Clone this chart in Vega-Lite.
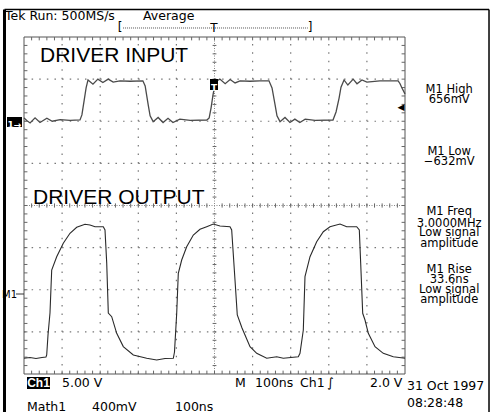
{
  "$schema": "https://vega.github.io/schema/vega-lite/v6.json",
  "width": 381,
  "height": 337,
  "autosize": {"type": "none"},
  "padding": {"left": 24, "top": 37, "right": 87, "bottom": 38},
  "background": "white",
  "config": {"view": {"stroke": null}},
  "datasets": {
    "inp": [
      {"t":0,"v":6.08},{"t":0.08,"v":6.01},{"t":0.16,"v":5.96},{"t":0.29,"v":6.08},{"t":0.42,"v":5.97},{"t":0.60,"v":6.07},{"t":0.74,"v":6.00},{"t":0.95,"v":6.04},{"t":1.21,"v":6.02},{"t":1.47,"v":6.03},{"t":1.52,"v":6.15},{"t":1.58,"v":6.50},{"t":1.63,"v":6.79},{"t":1.68,"v":6.98},{"t":1.81,"v":6.88},{"t":1.94,"v":7.00},{"t":2.07,"v":6.92},{"t":2.21,"v":7.00},{"t":2.34,"v":6.93},{"t":2.52,"v":6.96},{"t":2.78,"v":6.95},{"t":3.12,"v":6.96},{"t":3.18,"v":6.84},{"t":3.26,"v":6.39},{"t":3.31,"v":6.13},{"t":3.39,"v":5.99},{"t":3.52,"v":6.09},{"t":3.65,"v":5.97},{"t":3.78,"v":6.07},{"t":3.91,"v":5.97},{"t":4.09,"v":6.05},{"t":4.36,"v":6.02},{"t":4.80,"v":6.03},{"t":4.86,"v":6.08},{"t":4.91,"v":6.32},{"t":4.96,"v":6.62},{"t":5.01,"v":6.86},{"t":5.07,"v":6.96},{"t":5.14,"v":7.00},{"t":5.28,"v":6.89},{"t":5.41,"v":6.99},{"t":5.54,"v":6.91},{"t":5.67,"v":6.96},{"t":5.93,"v":6.95},{"t":6.19,"v":6.96},{"t":6.43,"v":6.96},{"t":6.51,"v":6.79},{"t":6.59,"v":6.39},{"t":6.64,"v":6.13},{"t":6.72,"v":5.99},{"t":6.85,"v":6.09},{"t":6.98,"v":5.97},{"t":7.11,"v":6.05},{"t":7.24,"v":5.97},{"t":7.38,"v":6.05},{"t":7.64,"v":6.02},{"t":8.11,"v":6.03},{"t":8.19,"v":6.22},{"t":8.27,"v":6.55},{"t":8.32,"v":6.81},{"t":8.40,"v":6.98},{"t":8.50,"v":6.86},{"t":8.64,"v":7.00},{"t":8.74,"v":6.89},{"t":8.87,"v":6.98},{"t":9.00,"v":6.93},{"t":9.34,"v":6.96},{"t":9.82,"v":6.96},{"t":9.87,"v":6.89},{"t":9.92,"v":6.79},{"t":10.0,"v":6.65}
    ],
    "out": [
      {"t":0,"v":0.373},{"t":0.157,"v":0.392},{"t":0.315,"v":0.368},{"t":0.472,"v":0.392},{"t":0.577,"v":0.404},{"t":0.596,"v":0.451},{"t":0.630,"v":0.926},{"t":0.682,"v":1.448},{"t":0.727,"v":2.469},{"t":0.858,"v":2.785},{"t":1.031,"v":3.103},{"t":1.207,"v":3.340},{"t":1.383,"v":3.482},{"t":1.601,"v":3.554},{"t":1.732,"v":3.537},{"t":1.864,"v":3.497},{"t":2.081,"v":3.497},{"t":2.126,"v":3.418},{"t":2.171,"v":2.635},{"t":2.213,"v":1.448},{"t":2.302,"v":1.360},{"t":2.433,"v":0.966},{"t":2.606,"v":0.650},{"t":2.869,"v":0.451},{"t":3.220,"v":0.373},{"t":3.483,"v":0.332},{"t":3.701,"v":0.368},{"t":3.919,"v":0.373},{"t":3.950,"v":0.522},{"t":4.008,"v":1.441},{"t":4.050,"v":2.390},{"t":4.139,"v":2.706},{"t":4.270,"v":3.022},{"t":4.444,"v":3.300},{"t":4.619,"v":3.435},{"t":4.795,"v":3.497},{"t":4.969,"v":3.561},{"t":5.144,"v":3.513},{"t":5.407,"v":3.497},{"t":5.451,"v":3.418},{"t":5.538,"v":2.231},{"t":5.598,"v":1.401},{"t":5.722,"v":1.092},{"t":5.932,"v":0.648},{"t":6.108,"v":0.491},{"t":6.370,"v":0.373},{"t":6.633,"v":0.411},{"t":6.806,"v":0.373},{"t":7.199,"v":0.411},{"t":7.244,"v":0.491},{"t":7.331,"v":1.045},{"t":7.375,"v":2.310},{"t":7.507,"v":2.785},{"t":7.682,"v":3.141},{"t":7.856,"v":3.378},{"t":8.031,"v":3.497},{"t":8.294,"v":3.561},{"t":8.470,"v":3.497},{"t":8.732,"v":3.497},{"t":8.801,"v":3.418},{"t":8.837,"v":2.628},{"t":8.890,"v":1.441},{"t":8.950,"v":1.282},{"t":9.037,"v":0.966},{"t":9.213,"v":0.648},{"t":9.430,"v":0.491},{"t":9.693,"v":0.411},{"t":10.0,"v":0.373}
    ],
    "htick": [
      {"t":0.2,"v":8,"v2":7.92},{"t":0.4,"v":8,"v2":7.92},{"t":0.6,"v":8,"v2":7.92},{"t":0.8,"v":8,"v2":7.92},{"t":1,"v":8,"v2":7.92},{"t":1.2,"v":8,"v2":7.92},{"t":1.4,"v":8,"v2":7.92},{"t":1.6,"v":8,"v2":7.92},{"t":1.8,"v":8,"v2":7.92},{"t":2,"v":8,"v2":7.92},{"t":2.2,"v":8,"v2":7.92},{"t":2.4,"v":8,"v2":7.92},{"t":2.6,"v":8,"v2":7.92},{"t":2.8,"v":8,"v2":7.92},{"t":3,"v":8,"v2":7.92},{"t":3.2,"v":8,"v2":7.92},{"t":3.4,"v":8,"v2":7.92},{"t":3.6,"v":8,"v2":7.92},{"t":3.8,"v":8,"v2":7.92},{"t":4,"v":8,"v2":7.92},{"t":4.2,"v":8,"v2":7.92},{"t":4.4,"v":8,"v2":7.92},{"t":4.6,"v":8,"v2":7.92},{"t":4.8,"v":8,"v2":7.92},{"t":5,"v":8,"v2":7.92},{"t":5.2,"v":8,"v2":7.92},{"t":5.4,"v":8,"v2":7.92},{"t":5.6,"v":8,"v2":7.92},{"t":5.8,"v":8,"v2":7.92},{"t":6,"v":8,"v2":7.92},{"t":6.2,"v":8,"v2":7.92},{"t":6.4,"v":8,"v2":7.92},{"t":6.6,"v":8,"v2":7.92},{"t":6.8,"v":8,"v2":7.92},{"t":7,"v":8,"v2":7.92},{"t":7.2,"v":8,"v2":7.92},{"t":7.4,"v":8,"v2":7.92},{"t":7.6,"v":8,"v2":7.92},{"t":7.8,"v":8,"v2":7.92},{"t":8,"v":8,"v2":7.92},{"t":8.2,"v":8,"v2":7.92},{"t":8.4,"v":8,"v2":7.92},{"t":8.6,"v":8,"v2":7.92},{"t":8.8,"v":8,"v2":7.92},{"t":9,"v":8,"v2":7.92},{"t":9.2,"v":8,"v2":7.92},{"t":9.4,"v":8,"v2":7.92},{"t":9.6,"v":8,"v2":7.92},{"t":9.8,"v":8,"v2":7.92},
      {"t":0.2,"v":0,"v2":0.08},{"t":0.4,"v":0,"v2":0.08},{"t":0.6,"v":0,"v2":0.08},{"t":0.8,"v":0,"v2":0.08},{"t":1,"v":0,"v2":0.08},{"t":1.2,"v":0,"v2":0.08},{"t":1.4,"v":0,"v2":0.08},{"t":1.6,"v":0,"v2":0.08},{"t":1.8,"v":0,"v2":0.08},{"t":2,"v":0,"v2":0.08},{"t":2.2,"v":0,"v2":0.08},{"t":2.4,"v":0,"v2":0.08},{"t":2.6,"v":0,"v2":0.08},{"t":2.8,"v":0,"v2":0.08},{"t":3,"v":0,"v2":0.08},{"t":3.2,"v":0,"v2":0.08},{"t":3.4,"v":0,"v2":0.08},{"t":3.6,"v":0,"v2":0.08},{"t":3.8,"v":0,"v2":0.08},{"t":4,"v":0,"v2":0.08},{"t":4.2,"v":0,"v2":0.08},{"t":4.4,"v":0,"v2":0.08},{"t":4.6,"v":0,"v2":0.08},{"t":4.8,"v":0,"v2":0.08},{"t":5,"v":0,"v2":0.08},{"t":5.2,"v":0,"v2":0.08},{"t":5.4,"v":0,"v2":0.08},{"t":5.6,"v":0,"v2":0.08},{"t":5.8,"v":0,"v2":0.08},{"t":6,"v":0,"v2":0.08},{"t":6.2,"v":0,"v2":0.08},{"t":6.4,"v":0,"v2":0.08},{"t":6.6,"v":0,"v2":0.08},{"t":6.8,"v":0,"v2":0.08},{"t":7,"v":0,"v2":0.08},{"t":7.2,"v":0,"v2":0.08},{"t":7.4,"v":0,"v2":0.08},{"t":7.6,"v":0,"v2":0.08},{"t":7.8,"v":0,"v2":0.08},{"t":8,"v":0,"v2":0.08},{"t":8.2,"v":0,"v2":0.08},{"t":8.4,"v":0,"v2":0.08},{"t":8.6,"v":0,"v2":0.08},{"t":8.8,"v":0,"v2":0.08},{"t":9,"v":0,"v2":0.08},{"t":9.2,"v":0,"v2":0.08},{"t":9.4,"v":0,"v2":0.08},{"t":9.6,"v":0,"v2":0.08},{"t":9.8,"v":0,"v2":0.08},
      {"t":0.2,"v":3.95,"v2":4.05},{"t":0.4,"v":3.95,"v2":4.05},{"t":0.6,"v":3.95,"v2":4.05},{"t":0.8,"v":3.95,"v2":4.05},{"t":1,"v":3.95,"v2":4.05},{"t":1.2,"v":3.95,"v2":4.05},{"t":1.4,"v":3.95,"v2":4.05},{"t":1.6,"v":3.95,"v2":4.05},{"t":1.8,"v":3.95,"v2":4.05},{"t":2,"v":3.95,"v2":4.05},{"t":2.2,"v":3.95,"v2":4.05},{"t":2.4,"v":3.95,"v2":4.05},{"t":2.6,"v":3.95,"v2":4.05},{"t":2.8,"v":3.95,"v2":4.05},{"t":3,"v":3.95,"v2":4.05},{"t":3.2,"v":3.95,"v2":4.05},{"t":3.4,"v":3.95,"v2":4.05},{"t":3.6,"v":3.95,"v2":4.05},{"t":3.8,"v":3.95,"v2":4.05},{"t":4,"v":3.95,"v2":4.05},{"t":4.2,"v":3.95,"v2":4.05},{"t":4.4,"v":3.95,"v2":4.05},{"t":4.6,"v":3.95,"v2":4.05},{"t":4.8,"v":3.95,"v2":4.05},{"t":5.2,"v":3.95,"v2":4.05},{"t":5.4,"v":3.95,"v2":4.05},{"t":5.6,"v":3.95,"v2":4.05},{"t":5.8,"v":3.95,"v2":4.05},{"t":6,"v":3.95,"v2":4.05},{"t":6.2,"v":3.95,"v2":4.05},{"t":6.4,"v":3.95,"v2":4.05},{"t":6.6,"v":3.95,"v2":4.05},{"t":6.8,"v":3.95,"v2":4.05},{"t":7,"v":3.95,"v2":4.05},{"t":7.2,"v":3.95,"v2":4.05},{"t":7.4,"v":3.95,"v2":4.05},{"t":7.6,"v":3.95,"v2":4.05},{"t":7.8,"v":3.95,"v2":4.05},{"t":8,"v":3.95,"v2":4.05},{"t":8.2,"v":3.95,"v2":4.05},{"t":8.4,"v":3.95,"v2":4.05},{"t":8.6,"v":3.95,"v2":4.05},{"t":8.8,"v":3.95,"v2":4.05},{"t":9,"v":3.95,"v2":4.05},{"t":9.2,"v":3.95,"v2":4.05},{"t":9.4,"v":3.95,"v2":4.05},{"t":9.6,"v":3.95,"v2":4.05},{"t":9.8,"v":3.95,"v2":4.05}
    ],
    "vtick": [
      {"v":0.2,"t":0,"t2":0.09},{"v":0.4,"t":0,"t2":0.09},{"v":0.6,"t":0,"t2":0.09},{"v":0.8,"t":0,"t2":0.09},{"v":1,"t":0,"t2":0.09},{"v":1.2,"t":0,"t2":0.09},{"v":1.4,"t":0,"t2":0.09},{"v":1.6,"t":0,"t2":0.09},{"v":1.8,"t":0,"t2":0.09},{"v":2,"t":0,"t2":0.09},{"v":2.2,"t":0,"t2":0.09},{"v":2.4,"t":0,"t2":0.09},{"v":2.6,"t":0,"t2":0.09},{"v":2.8,"t":0,"t2":0.09},{"v":3,"t":0,"t2":0.09},{"v":3.2,"t":0,"t2":0.09},{"v":3.4,"t":0,"t2":0.09},{"v":3.6,"t":0,"t2":0.09},{"v":3.8,"t":0,"t2":0.09},{"v":4,"t":0,"t2":0.09},{"v":4.2,"t":0,"t2":0.09},{"v":4.4,"t":0,"t2":0.09},{"v":4.6,"t":0,"t2":0.09},{"v":4.8,"t":0,"t2":0.09},{"v":5,"t":0,"t2":0.09},{"v":5.2,"t":0,"t2":0.09},{"v":5.4,"t":0,"t2":0.09},{"v":5.6,"t":0,"t2":0.09},{"v":5.8,"t":0,"t2":0.09},{"v":6,"t":0,"t2":0.09},{"v":6.2,"t":0,"t2":0.09},{"v":6.4,"t":0,"t2":0.09},{"v":6.6,"t":0,"t2":0.09},{"v":6.8,"t":0,"t2":0.09},{"v":7,"t":0,"t2":0.09},{"v":7.2,"t":0,"t2":0.09},{"v":7.4,"t":0,"t2":0.09},{"v":7.6,"t":0,"t2":0.09},{"v":7.8,"t":0,"t2":0.09},
      {"v":0.2,"t":10,"t2":9.91},{"v":0.4,"t":10,"t2":9.91},{"v":0.6,"t":10,"t2":9.91},{"v":0.8,"t":10,"t2":9.91},{"v":1,"t":10,"t2":9.91},{"v":1.2,"t":10,"t2":9.91},{"v":1.4,"t":10,"t2":9.91},{"v":1.6,"t":10,"t2":9.91},{"v":1.8,"t":10,"t2":9.91},{"v":2,"t":10,"t2":9.91},{"v":2.2,"t":10,"t2":9.91},{"v":2.4,"t":10,"t2":9.91},{"v":2.6,"t":10,"t2":9.91},{"v":2.8,"t":10,"t2":9.91},{"v":3,"t":10,"t2":9.91},{"v":3.2,"t":10,"t2":9.91},{"v":3.4,"t":10,"t2":9.91},{"v":3.6,"t":10,"t2":9.91},{"v":3.8,"t":10,"t2":9.91},{"v":4,"t":10,"t2":9.91},{"v":4.2,"t":10,"t2":9.91},{"v":4.4,"t":10,"t2":9.91},{"v":4.6,"t":10,"t2":9.91},{"v":4.8,"t":10,"t2":9.91},{"v":5,"t":10,"t2":9.91},{"v":5.2,"t":10,"t2":9.91},{"v":5.4,"t":10,"t2":9.91},{"v":5.6,"t":10,"t2":9.91},{"v":5.8,"t":10,"t2":9.91},{"v":6,"t":10,"t2":9.91},{"v":6.2,"t":10,"t2":9.91},{"v":6.4,"t":10,"t2":9.91},{"v":6.6,"t":10,"t2":9.91},{"v":6.8,"t":10,"t2":9.91},{"v":7,"t":10,"t2":9.91},{"v":7.2,"t":10,"t2":9.91},{"v":7.4,"t":10,"t2":9.91},{"v":7.6,"t":10,"t2":9.91},{"v":7.8,"t":10,"t2":9.91},
      {"v":0.2,"t":4.95,"t2":5.05},{"v":0.4,"t":4.95,"t2":5.05},{"v":0.6,"t":4.95,"t2":5.05},{"v":0.8,"t":4.95,"t2":5.05},{"v":1,"t":4.95,"t2":5.05},{"v":1.2,"t":4.95,"t2":5.05},{"v":1.4,"t":4.95,"t2":5.05},{"v":1.6,"t":4.95,"t2":5.05},{"v":1.8,"t":4.95,"t2":5.05},{"v":2,"t":4.95,"t2":5.05},{"v":2.2,"t":4.95,"t2":5.05},{"v":2.4,"t":4.95,"t2":5.05},{"v":2.6,"t":4.95,"t2":5.05},{"v":2.8,"t":4.95,"t2":5.05},{"v":3,"t":4.95,"t2":5.05},{"v":3.2,"t":4.95,"t2":5.05},{"v":3.4,"t":4.95,"t2":5.05},{"v":3.6,"t":4.95,"t2":5.05},{"v":3.8,"t":4.95,"t2":5.05},{"v":4.2,"t":4.95,"t2":5.05},{"v":4.4,"t":4.95,"t2":5.05},{"v":4.6,"t":4.95,"t2":5.05},{"v":4.8,"t":4.95,"t2":5.05},{"v":5,"t":4.95,"t2":5.05},{"v":5.2,"t":4.95,"t2":5.05},{"v":5.4,"t":4.95,"t2":5.05},{"v":5.6,"t":4.95,"t2":5.05},{"v":5.8,"t":4.95,"t2":5.05},{"v":6,"t":4.95,"t2":5.05},{"v":6.2,"t":4.95,"t2":5.05},{"v":6.4,"t":4.95,"t2":5.05},{"v":6.6,"t":4.95,"t2":5.05},{"v":6.8,"t":4.95,"t2":5.05},{"v":7,"t":4.95,"t2":5.05},{"v":7.2,"t":4.95,"t2":5.05},{"v":7.4,"t":4.95,"t2":5.05},{"v":7.6,"t":4.95,"t2":5.05},{"v":7.8,"t":4.95,"t2":5.05}
    ],
    "gridv": [{"t":1,"v":0,"v2":8},{"t":2,"v":0,"v2":8},{"t":3,"v":0,"v2":8},{"t":4,"v":0,"v2":8},{"t":6,"v":0,"v2":8},{"t":7,"v":0,"v2":8},{"t":8,"v":0,"v2":8},{"t":9,"v":0,"v2":8}],
    "gridh": [{"v":1,"t":0,"t2":10},{"v":2,"t":0,"t2":10},{"v":3,"t":0,"t2":10},{"v":5,"t":0,"t2":10},{"v":6,"t":0,"t2":10},{"v":7,"t":0,"t2":10}],
    "box": [{"t":0,"v":0,"t2":10,"v2":0},{"t":0,"v":8,"t2":10,"v2":8},{"t":0,"v":0,"t2":0,"v2":8},{"t":10,"v":0,"t2":10,"v2":8}],
    "cross": [{"t":0,"v":4,"t2":10,"v2":4},{"t":5,"v":0,"t2":5,"v2":8}],
    "frame": [{"part":"left","t":-0.512,"v":8.653,"t2":-0.512,"v2":-0.95},{"part":"top","t":-0.512,"v":8.653,"t2":12.205,"v2":8.653},{"part":"right","t":12.205,"v":8.653,"t2":12.205,"v2":-0.95}],
    "big": [{"t":0.42,"v":7.41,"label":"DRIVER INPUT"},{"t":0.236,"v":4.04,"label":"DRIVER OUTPUT"}],
    "meas": [
      {"t":11.16,"v":6.664,"label":"M1 High"},{"t":11.16,"v":6.426,"label":"656mV"},
      {"t":11.16,"v":5.199,"label":"M1 Low"},{"t":11.16,"v":4.961,"label":"−632mV"},
      {"t":11.16,"v":3.774,"label":"M1 Freq"},{"t":11.16,"v":3.497,"label":"3.0000MHz"},{"t":11.16,"v":3.276,"label":"Low signal"},{"t":11.16,"v":3.022,"label":"amplitude"},
      {"t":11.16,"v":2.405,"label":"M1 Rise"},{"t":11.16,"v":2.153,"label":"33.6ns"},{"t":11.16,"v":1.930,"label":"Low signal"},{"t":11.16,"v":1.679,"label":"amplitude"}
    ],
    "plain": [
      {"t":-0.499,"v":8.415,"label":"Tek Run: 500MS/s"},{"t":3.123,"v":8.415,"label":"Average"},
      {"t":0.997,"v":-0.309,"label":"5.00 V"},{"t":5.538,"v":-0.309,"label":"M"},{"t":6.063,"v":-0.309,"label":"100ns"},{"t":7.244,"v":-0.309,"label":"Ch1"},{"t":7.953,"v":-0.309,"label":"∫"},{"t":9.081,"v":-0.309,"label":"2.0 V"},
      {"t":10.052,"v":-0.380,"label":"31 Oct 1997"},{"t":10.052,"v":-0.783,"label":"08:28:48"},
      {"t":0.079,"v":-0.88,"label":"Math1"},{"t":1.785,"v":-0.88,"label":"400mV"},{"t":3.963,"v":-0.88,"label":"100ns"}
    ],
    "brackets": [{"t":2.52,"v":8.133,"label":"["},{"t":7.507,"v":8.133,"label":"]"},{"t":4.987,"v":8.119,"label":"T"}],
    "bline": [{"t":2.6,"v":8.214,"t2":7.45,"v2":8.214}],
    "boxes": [{"t":0.079,"t2":0.682,"v":-0.071,"v2":-0.356},{"t":-0.446,"t2":-0.052,"v":6.101,"v2":5.863},{"t":4.882,"t2":5.092,"v":7.003,"v2":6.742}],
    "ch1": [{"t":0.38,"v":-0.22,"label":"Ch1"}],
    "smallbox": [{"t":-0.249,"v":5.91,"label":"1→"},{"t":4.987,"v":6.79,"label":"T"}],
    "marks": [{"t":-0.577,"v":1.816,"label":"M1"}],
    "mline": [{"t":-0.21,"v":1.899,"t2":0,"v2":1.899}],
    "arrow": [{"t":9.895,"v":6.33,"label":"◀"}]
  },
  "encoding": {
    "x": {"field": "t", "type": "quantitative", "scale": {"domain": [0, 10], "nice": false, "zero": false}, "axis": null},
    "y": {"field": "v", "type": "quantitative", "scale": {"domain": [0, 8], "nice": false, "zero": false}, "axis": null}
  },
  "layer": [
    {"data": {"name": "frame"}, "transform": [{"filter": "datum.part == 'left'"}], "mark": {"type": "rule", "color": "black", "strokeWidth": 3},
     "encoding": {"x2": {"field": "t2"}, "y2": {"field": "v2"}}},
    {"data": {"name": "frame"}, "transform": [{"filter": "datum.part != 'left'"}], "mark": {"type": "rule", "color": "black", "strokeWidth": 1.5},
     "encoding": {"x2": {"field": "t2"}, "y2": {"field": "v2"}}},
    {"data": {"name": "gridv"}, "mark": {"type": "rule", "color": "#777", "strokeWidth": 1.2, "strokeDash": [1.5, 6.925]},
     "encoding": {"y2": {"field": "v2"}}},
    {"data": {"name": "gridh"}, "mark": {"type": "rule", "color": "#777", "strokeWidth": 1.2, "strokeDash": [1.5, 6.12]},
     "encoding": {"x2": {"field": "t2"}}},
    {"data": {"name": "cross"}, "mark": {"type": "rule", "color": "#888", "strokeWidth": 1, "strokeDash": [1, 1.5]},
     "encoding": {"x2": {"field": "t2"}, "y2": {"field": "v2"}}},
    {"data": {"name": "box"}, "mark": {"type": "rule", "color": "#555", "strokeWidth": 1},
     "encoding": {"x2": {"field": "t2"}, "y2": {"field": "v2"}}},
    {"data": {"name": "htick"}, "mark": {"type": "rule", "color": "#666", "strokeWidth": 1},
     "encoding": {"y2": {"field": "v2"}}},
    {"data": {"name": "vtick"}, "mark": {"type": "rule", "color": "#666", "strokeWidth": 1},
     "encoding": {"x2": {"field": "t2"}}},
    {"data": {"name": "inp"}, "mark": {"type": "line", "color": "#4a4a4a", "strokeWidth": 1.3}, "encoding": {}},
    {"data": {"name": "out"}, "mark": {"type": "line", "color": "#2a2a2a", "strokeWidth": 1.1}, "encoding": {}},
    {"data": {"name": "big"}, "mark": {"type": "text", "align": "left", "baseline": "alphabetic", "font": "Liberation Sans", "fontSize": 21, "color": "black"},
     "encoding": {"text": {"field": "label"}}},
    {"data": {"name": "meas"}, "mark": {"type": "text", "align": "center", "baseline": "alphabetic", "font": "DejaVu Sans", "fontSize": 11.5, "color": "black"},
     "encoding": {"text": {"field": "label"}}},
    {"data": {"name": "plain"}, "mark": {"type": "text", "align": "left", "baseline": "alphabetic", "font": "DejaVu Sans", "fontSize": 12.5, "color": "black"},
     "encoding": {"text": {"field": "label"}}},
    {"data": {"name": "bline"}, "mark": {"type": "rule", "color": "#555", "strokeWidth": 1, "strokeDash": [1, 1]},
     "encoding": {"x2": {"field": "t2"}, "y2": {"field": "v2"}}},
    {"data": {"name": "brackets"}, "mark": {"type": "text", "align": "center", "baseline": "alphabetic", "font": "DejaVu Sans", "fontSize": 12, "color": "black"},
     "encoding": {"text": {"field": "label"}}},
    {"data": {"name": "boxes"}, "mark": {"type": "rect", "color": "black"},
     "encoding": {"x2": {"field": "t2"}, "y2": {"field": "v2"}}},
    {"data": {"name": "ch1"}, "mark": {"type": "text", "align": "center", "baseline": "middle", "font": "Liberation Sans", "fontWeight": "bold", "fontSize": 12, "color": "white"},
     "encoding": {"text": {"field": "label"}}},
    {"data": {"name": "smallbox"}, "mark": {"type": "text", "align": "center", "baseline": "middle", "font": "DejaVu Sans", "fontWeight": "bold", "fontSize": 9, "color": "white"},
     "encoding": {"text": {"field": "label"}}},
    {"data": {"name": "marks"}, "mark": {"type": "text", "align": "left", "baseline": "alphabetic", "font": "DejaVu Sans", "fontSize": 10, "color": "black"},
     "encoding": {"text": {"field": "label"}}},
    {"data": {"name": "mline"}, "mark": {"type": "rule", "color": "#333", "strokeWidth": 1},
     "encoding": {"x2": {"field": "t2"}, "y2": {"field": "v2"}}},
    {"data": {"name": "arrow"}, "mark": {"type": "text", "align": "center", "baseline": "middle", "font": "DejaVu Sans", "fontSize": 9, "color": "black"},
     "encoding": {"text": {"field": "label"}}}
  ]
}
